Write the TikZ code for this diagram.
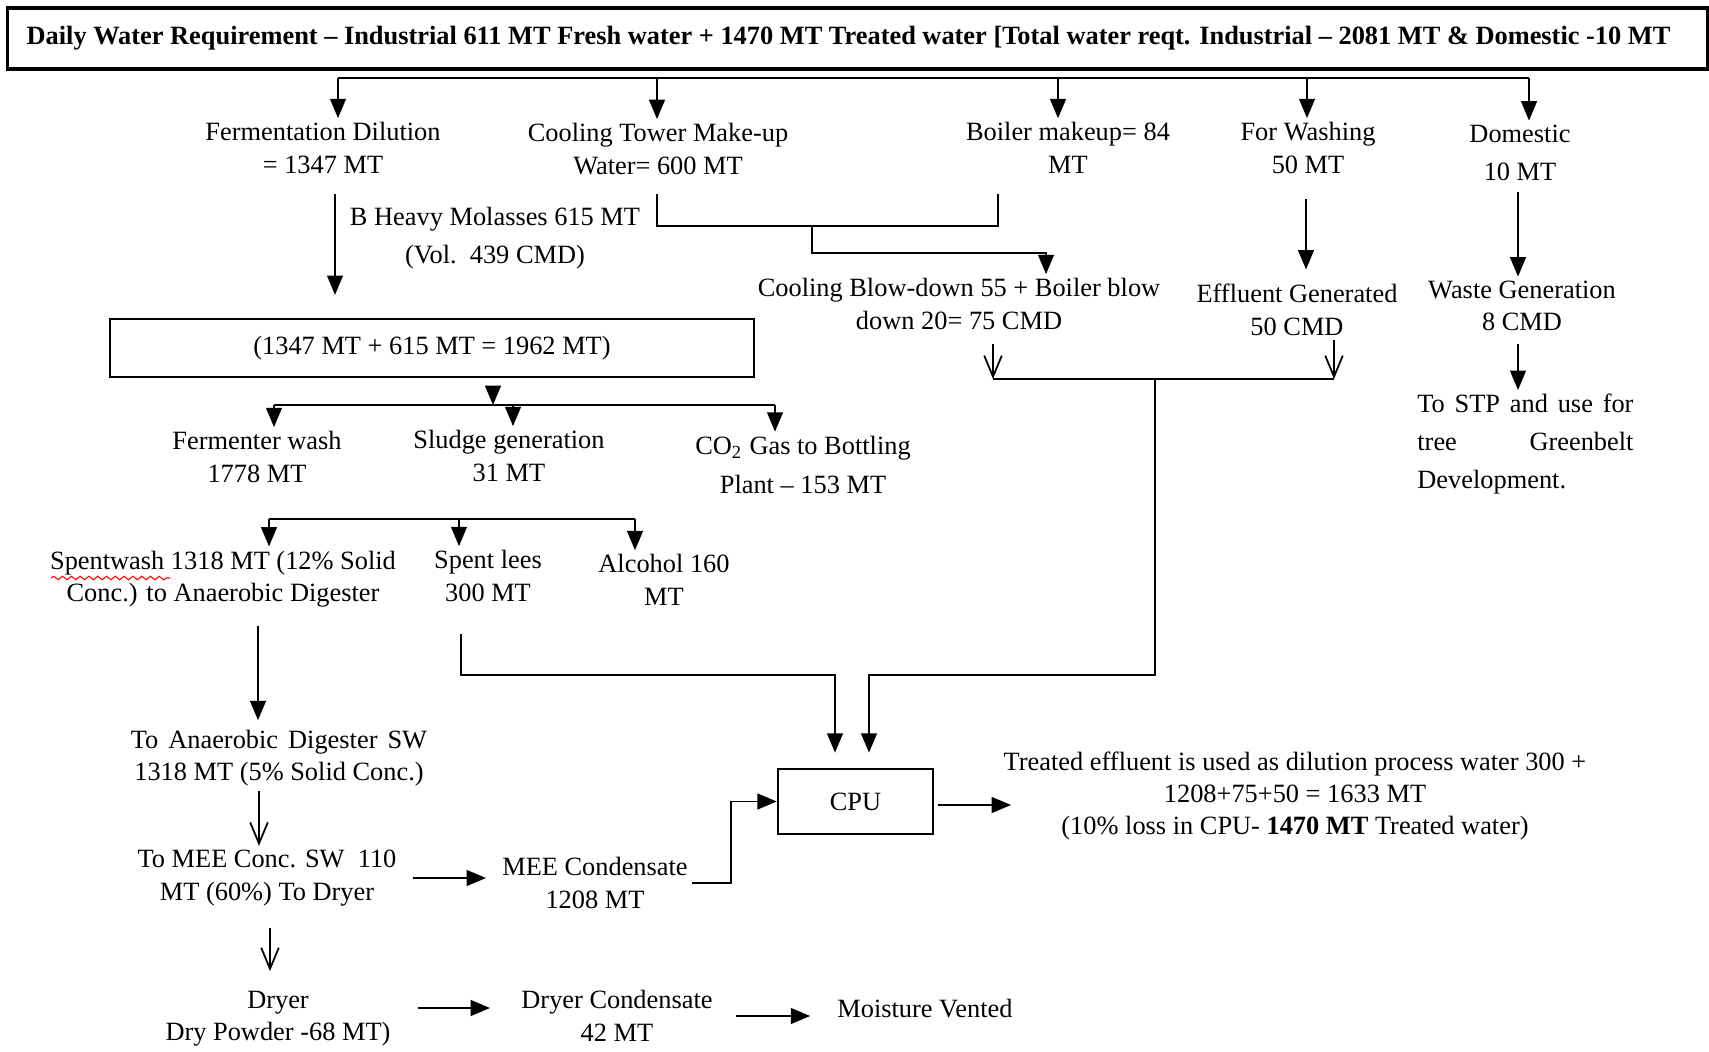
\documentclass[tikz,border=0pt]{standalone}
\usepackage{fontspec}
\setmainfont{Liberation Serif}
\usetikzlibrary{positioning,arrows.meta,decorations.pathmorphing}

\begin{document}
\begin{tikzpicture}[x=0.01cm,y=-0.01cm,line width=0.5pt,
    lbl/.style={align=center,inner sep=1pt,font=\fontsize{7.5}{9.2}\selectfont},
    box/.style={draw,line width=0.7pt,inner sep=0pt},
    arr/.style={-{Triangle[length=5.5pt,width=4.5pt]}},
    oarr/.style={-{Straight Barb[length=6pt,width=5pt]}}]
\useasboundingbox (0,0) rectangle (1709,1052);

% Header
\node[box,line width=0.9pt,minimum width=16.99cm,minimum height=0.61cm,
      font=\bfseries\fontsize{7.5}{9}\selectfont] (hdr) at (857.5,38.5)
  {Daily Water Requirement -- Industrial 611 MT Fresh water + 1470 MT Treated water [Total water reqt. Industrial -- 2081 MT \& Domestic -10 MT\hspace*{0.18cm}};

% Water uses
\node[lbl] (fdil) at (323,148) {Fermentation Dilution\\= 1347 MT};
\node[lbl] (ctow) at (658,149) {Cooling Tower Make-up\\Water= 600 MT};
\node[lbl] (boil) at (1068,148) {Boiler makeup= 84\\MT};
\node[lbl] (wash) at (1308,148) {For Washing\\50 MT};
\node[lbl] (dom) at (1520,153) {Domestic\\[1.7pt]10 MT};
\node[lbl] (molas) at (495,238) {B Heavy Molasses 615 MT\\[1.5pt](Vol.\ \ 439 CMD)};

% Wastewater generated
\node[lbl] (blow) at (959,304) {Cooling Blow-down 55 + Boiler blow\\down 20= 75 CMD};
\node[lbl] (effl) at (1297,310) {Effluent Generated\\50 CMD};
\node[lbl] (waste) at (1522,306) {Waste Generation\\8 CMD};
\node[lbl,anchor=north west,align=left,font=\fontsize{7.5}{10.8}\selectfont] (stp) at (1413,390)
  {\makebox[2.16cm][s]{To STP and use for}\\\makebox[2.16cm][s]{tree Greenbelt}\\Development.};

% Fermentation
\node[lbl,box,minimum width=6.44cm,minimum height=0.58cm] (mix) at (432,348) {(1347 MT + 615 MT = 1962 MT)};
\node[lbl] (fwash) at (257,457) {Fermenter wash\\1778 MT};
\node[lbl] (sludge) at (509,456) {Sludge generation\\31 MT};
\node[lbl] (cotwo) at (803,465) {CO\textsubscript{2} Gas to Bottling\\[2pt]Plant -- 153 MT};
\node[lbl] (spent) at (223,579) {Spentwash 1318 MT (12\% Solid\\Conc.) to Anaerobic Digester};
\node[lbl] (lees) at (488,576) {Spent lees\\300 MT};
\node[lbl] (alc) at (664,580) {Alcohol 160\\MT};
\draw[red,line width=0.3pt,decorate,decoration={snake,amplitude=0.5pt,segment length=2.5pt}] (51,578) -- (170,578);

% Spentwash treatment
\node[lbl] (anaer) at (279,758) {\makebox[2.96cm][s]{To Anaerobic Digester SW}\\1318 MT (5\% Solid Conc.)};
\node[lbl] (mee) at (267,878) {To MEE Conc. SW\ \ 110\\MT (60\%) To Dryer};
\node[lbl] (meec) at (595,883) {MEE Condensate\\1208 MT};
\node[lbl] (dryer) at (278,1019) {Dryer\\Dry Powder -68 MT)};
\node[lbl] (dryc) at (617,1016) {Dryer Condensate\\42 MT};
\node[lbl,anchor=west] (vent) at (833,1009) {Moisture Vented};

% CPU
\node[lbl,box,minimum width=1.55cm,minimum height=0.65cm] (cpu) at (855.5,801.5) {CPU};
\node[lbl] (treated) at (1295,796) {Treated effluent is used as dilution process water 300 +\\1208+75+50 = 1633 MT\\(10\% loss in CPU- \textbf{1470 MT} Treated water)};

% Top distribution
\coordinate (b1) at (338,78);
\coordinate (b5) at (1529,78);
\draw (b1) -- (b5);
\foreach \x/\n in {338/fdil,657/ctow,1058/boil,1307/wash,1529/dom}
  \draw[arr] (b1 -| \x,0) -- (\x,0 |- \n.north);

% Blow-down bracket
\coordinate (ct) at (657,194);
\coordinate (bo) at (998,194);
\coordinate (cb) at (812,226);
\draw (ct) -- ++(0,32) -| (bo);
\draw[arr] (cb) -- ++(0,27) -| (blow.north -| 1046,0);

% Down arrows
\coordinate (fdo) at (335,194);
\draw[arr,shorten >=6.5pt] (fdo) -- (mix.north -| fdo);
\coordinate (wo) at (1306,199);
\draw[arr,shorten >=3pt] (wo) -- (effl.north -| wo);
\coordinate (dmo) at (1518,192);
\draw[arr] (dmo) -- (waste.north -| dmo);
\coordinate (wso) at (1518,344);
\draw[arr] (wso) -- (stp.north -| wso);

% Merge to CPU
\coordinate (bl) at (993,379);
\coordinate (ef) at (1334,379);
\coordinate (jn) at (1155,379);
\draw[oarr,shorten <=3pt] (blow.south -| bl) -- (bl);
\draw[oarr] (effl.south -| ef) -- (ef);
\draw (bl) -- (ef);
\draw[arr,shorten >=4.3pt] (jn) -- ++(0,296) -| (cpu.north -| 869,0);

% Fermenter split
\coordinate (m2) at (493,405);
\draw[arr,shorten <=2.3pt] (mix.south -| m2) -- (m2);
\coordinate (c1) at (274,405);
\coordinate (c3) at (775,405);
\draw (c1) -- (c3);
\foreach \x/\n in {274/fwash,513/sludge,775/cotwo}
  \draw[arr] (c1 -| \x,0) -- (\x,0 |- \n.north);

% Wash split
\coordinate (d1) at (269,519);
\coordinate (d3) at (635,519);
\draw (d1) -- (d3);
\foreach \x/\n in {269/spent,459/lees,635/alc}
  \draw[arr] (d1 -| \x,0) -- (\x,0 |- \n.north);

% Spent lees to CPU
\coordinate (lo) at (461,634);
\draw[arr,shorten >=4.3pt] (lo) -- ++(0,41) -| (cpu.north -| 835,0);

% Spentwash chain
\draw[arr,shorten <=4pt,shorten >=1.5pt] (spent.south -| 258,0) -- (anaer.north -| 258,0);
\draw[oarr] (anaer.south -| 259,0) -- (mee.north -| 259,0);
\draw[arr,shorten <=3.4pt,shorten >=3.4pt] (mee.east) -- (mee.east -| meec.west);
\coordinate (mk) at (731,885);
\draw[arr] (meec.east) -- (meec.east -| mk) |- (cpu.west);
\draw[oarr,shorten <=5pt,shorten >=4.5pt] (mee.south -| 270,0) -- (dryer.north -| 270,0);
\coordinate (dt) at (490,1008);
\draw[arr,shorten <=6.5pt] (dryer.east |- dt) -- (dt);
\draw[arr,shorten <=5.4pt,shorten >=6.5pt] (dryc.east) -- (dryc.east -| vent.west);
\coordinate (tr) at (1011,805);
\draw[arr,shorten <=1pt] (cpu.east |- tr) -- (tr);
\end{tikzpicture}
\end{document}
